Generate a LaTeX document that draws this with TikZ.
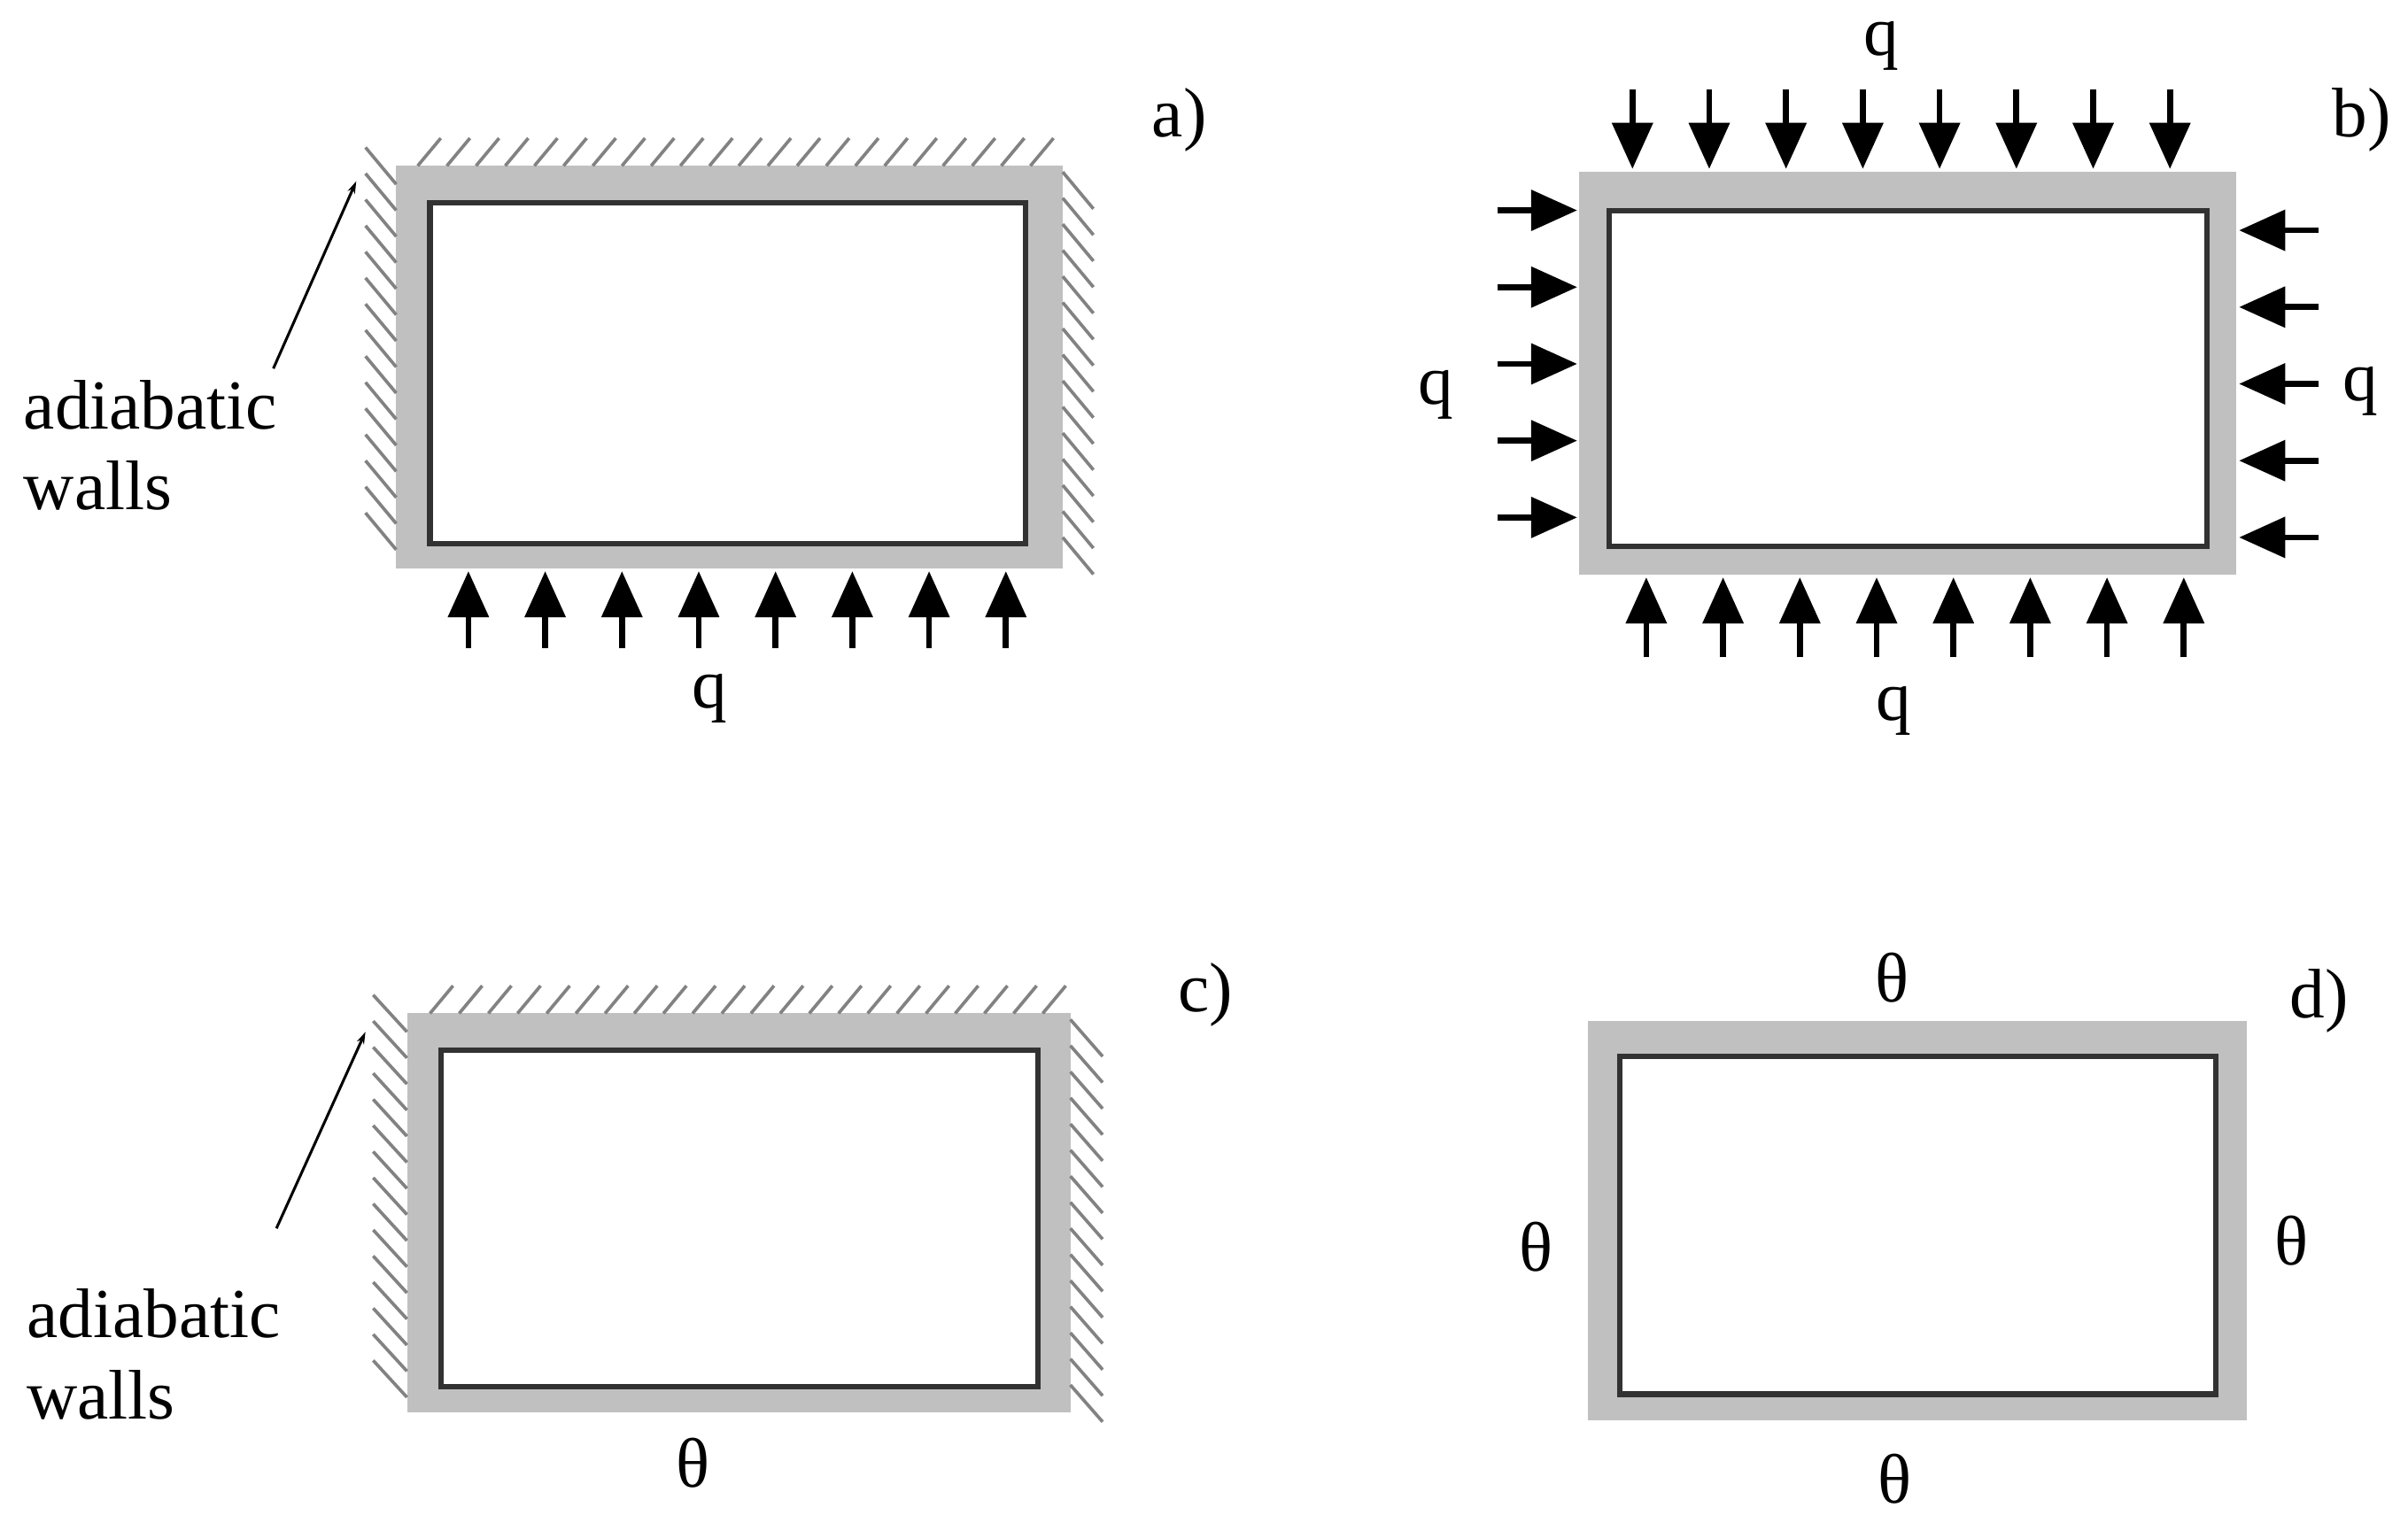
\documentclass[tikz,border=0pt]{standalone}
\usepackage{fontspec}
\setmainfont{Liberation Serif}
\usetikzlibrary{arrows.meta}
\begin{document}
\begin{tikzpicture}[x=0.01cm,y=-0.01cm,
  wall/.style={fill={rgb,255:red,192;green,192;blue,192},draw=none},
  inner/.style={fill=white,draw={rgb,255:red,50;green,50;blue,50},line width=1pt},
  hatch/.style={draw={rgb,255:red,130;green,130;blue,130},line width=0.6pt},
  load/.style={line width=1.1pt,-{Triangle[length=0.3cm,width=0.26cm]}},
  lbl/.style={font=\fontsize{13}{15}\selectfont,inner sep=0pt},
  thin/.style={line width=0.5pt,-{Stealth[length=0.08cm,width=0.05cm]}}]
\useasboundingbox (0,0) rectangle (1568,997);
% ---- a)
\fill[wall] (258,108) rectangle (692,370);
\filldraw[inner] (280,132) rectangle (668,354);
\foreach \x in {272,291,...,680} \draw[hatch] (\x,108) -- (\x+15,90);
\foreach \y in {96,113,...,350} \draw[hatch] (238,\y) -- (258,\y+24);
\foreach \y in {112,129,...,360} \draw[hatch] (692,\y) -- (712,\y+24);
\foreach \x in {305,355,...,655} \draw[load] (\x,422) -- (\x,372);
\node[lbl] (qa) at (462,455) {q};
\node[lbl] (la) at (768,78) {a)};
\node[lbl,align=left] (wa) at (98,290) {adiabatic\\walls};
\coordinate (ta) at (232,118);
\draw[thin] (178,240) -- (ta);
% ---- b)
\fill[wall] (1028,112) rectangle (1456,374);
\filldraw[inner] (1048,137) rectangle (1437,356);
\foreach \x in {1063,1113,...,1413} \draw[load] (\x,58) -- (\x,110);
\foreach \x in {1072,1122,...,1422} \draw[load] (\x,428) -- (\x,376);
\foreach \y in {137,187,...,337} \draw[load] (975,\y) -- (1027,\y);
\foreach \y in {150,200,...,350} \draw[load] (1510,\y) -- (1458,\y);
\node[lbl] (qb1) at (1225,30) {q};
\node[lbl] (qb2) at (935,257) {q};
\node[lbl] (qb3) at (1537,255) {q};
\node[lbl] (qb4) at (1233,463) {q};
\node[lbl] (lb) at (1538,78) {b)};
% ---- c)
\fill[wall] (265,660) rectangle (697,920);
\filldraw[inner] (287,684) rectangle (676,903);
\foreach \x in {280,299,...,688} \draw[hatch] (\x,660) -- (\x+15,642);
\foreach \y in {648,665,...,900} \draw[hatch] (243,\y) -- (265,\y+24);
\foreach \y in {664,681,...,910} \draw[hatch] (697,\y) -- (718,\y+24);
\node[lbl] (tc) at (451,953) {θ};
\node[lbl] (lc) at (785,648) {c)};
\node[lbl,align=left] (wc) at (100,882) {adiabatic\\walls};
\coordinate (tcc) at (238,672);
\draw[thin] (180,800) -- (tcc);
% ---- d)
\fill[wall] (1034,665) rectangle (1463,925);
\filldraw[inner] (1055,688) rectangle (1443,908);
\node[lbl] (td1) at (1232,637) {θ};
\node[lbl] (td2) at (1000,812) {θ};
\node[lbl] (td3) at (1492,808) {θ};
\node[lbl] (td4) at (1234,963) {θ};
\node[lbl] (ld) at (1510,652) {d)};
\end{tikzpicture}
\end{document}
